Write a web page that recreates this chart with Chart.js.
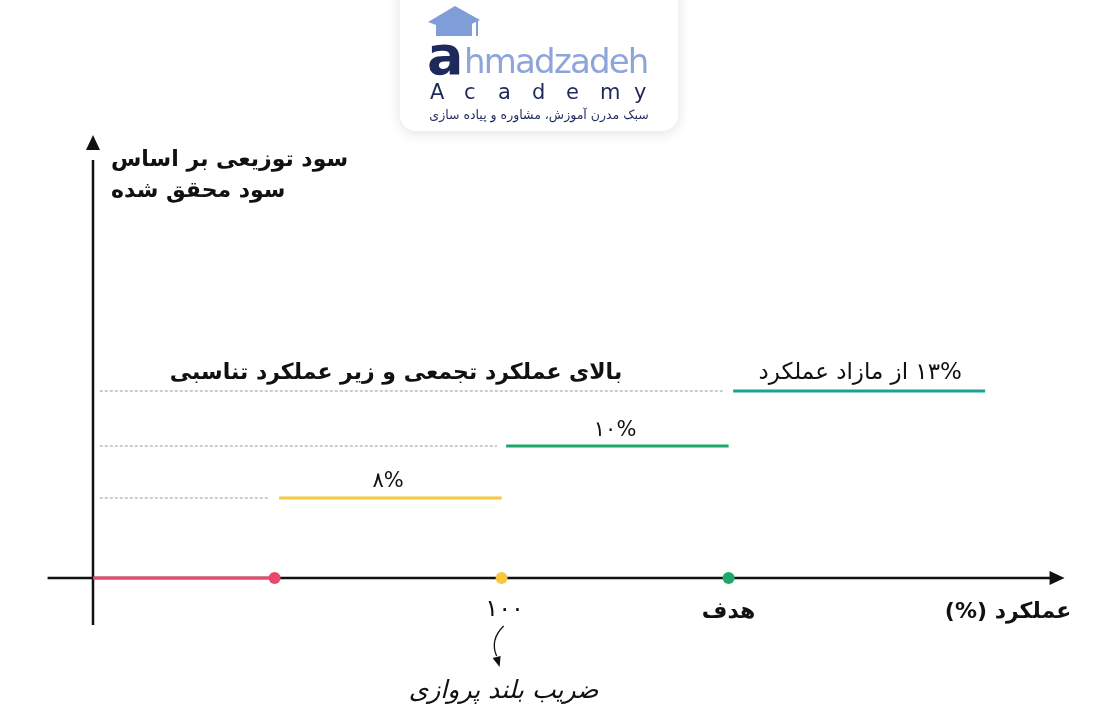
<!DOCTYPE html>
<html>
<head>
<meta charset="utf-8">
<script src="https://cdn.jsdelivr.net/npm/chart.js@4"></script>
<style>
  html, body { margin: 0; padding: 0; background: #fff; }
  #wrap { width: 1100px; height: 721px; position: relative; }
</style>
</head>
<body>
<div id="wrap"><canvas id="stepChart" width="1100" height="721"></canvas></div>
<script>
// x positions of breakpoints (origin, threshold, 100, target, end)
let xBreaks = [0, 0.8, 1.8, 2.8, 3.93];
// heights of the payout levels (relative)
let levels = [0, 80, 132, 187];
let levelLabels = ["", "۸%", "۱۰%", "۱۳% از مازاد عملکرد"];
let segColors = ["#e9486c", "#f6c73f", "#1fa86b", "#1c9f98"];
let dotColors = ["#e9486c", "#f6c73f", "#1fa86b"];
let tickLabels = ["۱۰۰", "هدف"];
let xTitle = "عملکرد (%)";
let yTitle = ["سود توزیعی بر اساس", "سود محقق شده"];
let bandTitle = "بالای عملکرد تجمعی و زیر عملکرد تناسبی";
let noteText = "ضریب بلند پروازی";

const FONT = "'DejaVu Sans', sans-serif";

let datasets = [];

// dashed guides from the y axis to the start of each level
for (let i = 1; i < levels.length; i++) {
  datasets.push({
    data: [{ x: 0.03, y: levels[i] }, { x: xBreaks[i] - 0.02, y: levels[i] }],
    borderColor: "#9a9a9a", borderWidth: 1, borderDash: [3, 2],
    pointRadius: 0, order: 5
  });
}
// level segments
for (let i = 0; i < levels.length; i++) {
  datasets.push({
    data: [{ x: i === 0 ? 0 : xBreaks[i] + 0.02, y: levels[i] }, { x: xBreaks[i + 1], y: levels[i] }],
    borderColor: segColors[i], borderWidth: 3,
    pointRadius: 0, order: 2
  });
}
// dots on the x axis
datasets.push({
  type: "scatter",
  data: [1, 2, 3].map(i => ({ x: xBreaks[i], y: 0 })),
  pointBackgroundColor: dotColors, pointBorderWidth: 0, pointRadius: 6,
  order: 1
});

function arrowHead(ctx, x, y, dir) {
  ctx.beginPath();
  if (dir === "right") {
    ctx.moveTo(x, y); ctx.lineTo(x - 15, y - 7); ctx.lineTo(x - 15, y + 7);
  } else {
    ctx.moveTo(x, y); ctx.lineTo(x - 7, y + 15); ctx.lineTo(x + 7, y + 15);
  }
  ctx.closePath();
  ctx.fill();
}

function roundRect(ctx, x, y, w, h, r) {
  ctx.beginPath();
  ctx.moveTo(x + r, y);
  ctx.arcTo(x + w, y, x + w, y + h, r);
  ctx.arcTo(x + w, y + h, x, y + h, r);
  ctx.arcTo(x, y + h, x, y, r);
  ctx.arcTo(x, y, x + w, y, r);
  ctx.closePath();
}

const axesPlugin = {
  id: "axes",
  beforeDatasetsDraw(chart) {
    let ctx = chart.ctx, xs = chart.scales.x, ys = chart.scales.y;
    let x0 = xs.getPixelForValue(0), y0 = ys.getPixelForValue(0);
    ctx.save();
    ctx.strokeStyle = "#111"; ctx.fillStyle = "#111"; ctx.lineWidth = 2.5;
    ctx.beginPath();
    ctx.moveTo(xs.getPixelForValue(-0.2), y0);
    ctx.lineTo(xs.getPixelForValue(4.22), y0);
    ctx.moveTo(x0, ys.getPixelForValue(-47));
    ctx.lineTo(x0, ys.getPixelForValue(418));
    ctx.stroke();
    arrowHead(ctx, xs.getPixelForValue(4.28), y0, "right");
    arrowHead(ctx, x0, ys.getPixelForValue(443), "up");
    ctx.restore();
  },
  afterDraw(chart) {
    let ctx = chart.ctx, xs = chart.scales.x, ys = chart.scales.y;
    let x0 = xs.getPixelForValue(0), y0 = ys.getPixelForValue(0);
    ctx.save();
    ctx.fillStyle = "#111";
    ctx.textBaseline = "alphabetic";

    // y axis title
    ctx.direction = "rtl"; ctx.textAlign = "left";
    ctx.font = "bold 22px " + FONT;
    ctx.fillText(yTitle[0], x0 + 18, 166);
    ctx.fillText(yTitle[1], x0 + 18, 197);

    // band title
    ctx.textAlign = "center";
    ctx.fillText(bandTitle, 396, 379);

    // level labels
    ctx.font = "21px " + FONT;
    ctx.direction = "ltr";
    ctx.fillText(levelLabels[1], (xs.getPixelForValue(xBreaks[1]) + xs.getPixelForValue(xBreaks[2])) / 2, ys.getPixelForValue(levels[1]) - 11);
    ctx.fillText(levelLabels[2], xs.getPixelForValue(2.3), ys.getPixelForValue(levels[2]) - 10);
    ctx.direction = "rtl"; ctx.textAlign = "center";
    ctx.font = "23px " + FONT;
    ctx.fillText(levelLabels[3], xs.getPixelForValue(3.38), ys.getPixelForValue(levels[3]) - 12);

    // x tick labels
    ctx.textAlign = "center"; ctx.direction = "ltr";
    ctx.font = "24px " + FONT;
    ctx.letterSpacing = "6px";
    ctx.fillText(tickLabels[0], xs.getPixelForValue(xBreaks[2]) + 3, y0 + 38);
    ctx.letterSpacing = "0px";
    ctx.direction = "rtl";
    ctx.font = "bold 22px " + FONT;
    ctx.fillText(tickLabels[1], xs.getPixelForValue(xBreaks[3]), y0 + 40);
    ctx.fillText(xTitle, 1008, y0 + 40);

    // note arrow and text
    let nx = xs.getPixelForValue(xBreaks[2]);
    ctx.strokeStyle = "#111"; ctx.lineWidth = 1.3;
    ctx.beginPath();
    ctx.moveTo(nx + 2, y0 + 48);
    ctx.quadraticCurveTo(nx - 12, y0 + 62, nx - 5, y0 + 78);
    ctx.stroke();
    ctx.beginPath();
    ctx.moveTo(nx - 2, y0 + 89); ctx.lineTo(nx - 9, y0 + 80); ctx.lineTo(nx - 1, y0 + 78);
    ctx.closePath(); ctx.fill();
    ctx.font = "italic 25px " + FONT;
    ctx.fillText(noteText, nx + 2, y0 + 120);

    // logo card
    ctx.shadowColor = "rgba(0,0,0,0.12)"; ctx.shadowBlur = 14; ctx.shadowOffsetY = 2;
    ctx.fillStyle = "#fff";
    roundRect(ctx, 400, -20, 278, 151, 16); ctx.fill();
    ctx.shadowColor = "transparent";
    // cap
    ctx.fillStyle = "#7f9ed8";
    ctx.beginPath();
    ctx.moveTo(428, 22); ctx.lineTo(455, 6); ctx.lineTo(480, 20); ctx.lineTo(455, 32); ctx.closePath(); ctx.fill();
    ctx.fillRect(436, 24, 36, 12);
    ctx.fillRect(476, 20, 2, 16);
    ctx.textAlign = "left"; ctx.direction = "ltr";
    ctx.fillStyle = "#1f2a5c";
    ctx.font = "bold 54px " + FONT;
    ctx.fillText("a", 427, 74);
    ctx.fillStyle = "#8ea5da";
    ctx.font = "34px " + FONT;
    ctx.letterSpacing = "-1.8px";
    ctx.fillText("hmadzadeh", 464, 73);
    ctx.letterSpacing = "0px";
    ctx.fillStyle = "#1f2a5c";
    ctx.font = "21px " + FONT;
    "Academy".split("").forEach((c, i) => ctx.fillText(c, 430 + i * 34, 99));
    ctx.font = "12.5px " + FONT;
    ctx.direction = "rtl"; ctx.textAlign = "center";
    ctx.fillText("سبک مدرن آموزش، مشاوره و پیاده سازی", 539, 119);
    ctx.restore();
  }
};

new Chart(document.getElementById("stepChart").getContext("2d"), {
  type: "line",
  data: { datasets: datasets },
  options: {
    responsive: false,
    animation: false,
    layout: { padding: 0, autoPadding: false },
    plugins: { legend: { display: false }, tooltip: { enabled: false } },
    scales: {
      x: { type: "linear", display: false, min: -93 / 227, max: 1007 / 227 },
      y: { type: "linear", display: false, min: -143, max: 578 }
    }
  },
  plugins: [axesPlugin]
});
</script>
</body>
</html>
